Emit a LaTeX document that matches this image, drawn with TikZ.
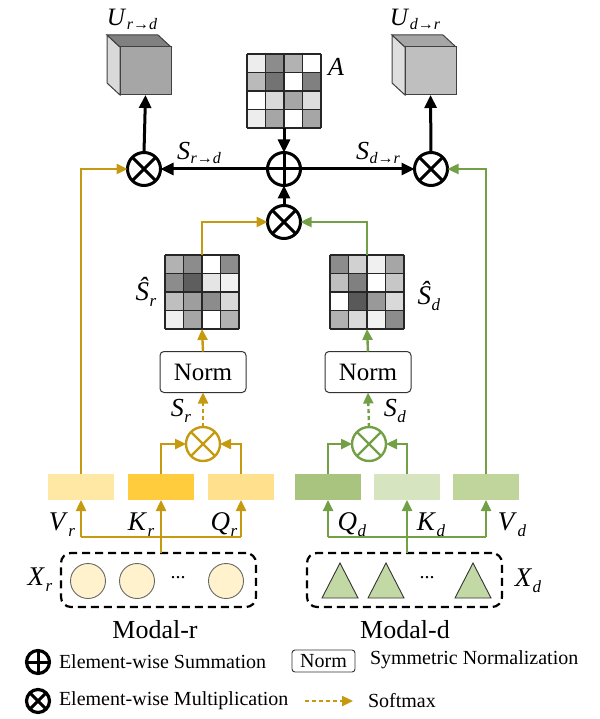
\documentclass[tikz,border=0pt]{standalone}
\usepackage{fontspec}
\setmainfont{Liberation Serif}
\usetikzlibrary{arrows.meta}
\definecolor{ygold}{HTML}{C59A10}
\definecolor{grn}{HTML}{73A047}
\definecolor{yA}{HTML}{FFE8A3}
\definecolor{yB}{HTML}{FFCC3E}
\definecolor{yC}{HTML}{FFE08C}
\definecolor{gA}{HTML}{A9C47F}
\definecolor{gB}{HTML}{D7E4C0}
\definecolor{gC}{HTML}{BFD59B}
\definecolor{circfill}{HTML}{FFF2CC}
\definecolor{trifill}{HTML}{C3D9A5}
\newcommand{\fsz}[1]{\fontsize{#1}{#1}\selectfont}
\newcommand{\sublab}[5]{{\fsz{#1}\textit{#2}\raisebox{-#4pt}{\fsz{#3}\kern0.5pt\textit{#5}}}}
\newcommand{\mygrid}[3]{%
  \foreach \v [count=\i from 0] in {#3} {
    \pgfmathtruncatemacro{\cx}{mod(\i,4)}
    \pgfmathtruncatemacro{\cy}{int(\i/4)}
    \fill[black!\v] ({#1-37+\cx*18.5},{#2-37+\cy*18.5}) rectangle ++(18.5,18.5);
  }
  \foreach \k in {0,1,2,3,4} {
    \draw[line width=1.1pt, black!85] ({#1-37+\k*18.5},{#2-37}) -- ++(0,74);
    \draw[line width=1.1pt, black!85] ({#1-37},{#2-37+\k*18.5}) -- ++(74,0);
  }
}
\tikzset{
  every node/.style={inner sep=0pt, outer sep=0pt},
  blk/.style={line width=3pt, -{Triangle[length=13pt,width=12pt]}},
  yl/.style={draw=ygold, line width=2.4pt, -{Triangle[length=11pt,width=10pt]}},
  gl/.style={draw=grn, line width=2.4pt, -{Triangle[length=11pt,width=10pt]}},
  opmul/.style={circle, draw, minimum size=33pt, line width=3pt,
    path picture={\draw[line width=3pt] (path picture bounding box.north west)--(path picture bounding box.south east) (path picture bounding box.north east)--(path picture bounding box.south west);}},
  opsum/.style={circle, draw, minimum size=33pt, line width=3pt,
    path picture={\draw[line width=3pt] (path picture bounding box.north)--(path picture bounding box.south) (path picture bounding box.east)--(path picture bounding box.west);}},
  smul/.style={circle, draw=#1, minimum size=34pt, line width=2.4pt,
    path picture={\draw[#1, line width=2.4pt] (path picture bounding box.north west)--(path picture bounding box.south east) (path picture bounding box.north east)--(path picture bounding box.south west);}},
  normbox/.style={draw=black!80, line width=1pt, rounded corners=4pt, minimum width=86pt, minimum height=41pt, font=\fsz{25}},
  qkv/.style={minimum width=66pt, minimum height=26pt},
  dbox/.style={draw, line width=2.2pt, dash pattern=on 8pt off 5pt, rounded corners=10pt},
  mat/.style={minimum size=74pt},
  cubeface/.style={draw=black!75, line width=1pt},
  legtext/.style={anchor=west, font=\fsz{20}},
}
\begin{document}
\begin{tikzpicture}[x=1pt,y=-1pt]
\useasboundingbox (0,0) rectangle (599,719);

% cubes
\filldraw[cubeface, fill=black!15] (107,35) -- (120,47) -- (120,95) -- (107,83) -- cycle;
\filldraw[cubeface, fill=black!50] (107,35) -- (158,35) -- (171,47) -- (120,47) -- cycle;
\filldraw[cubeface, fill=black!35] (120,47) rectangle (171,95);
\node[minimum width=51pt, minimum height=48pt] (UL) at (145.5,71) {};
\filldraw[cubeface, fill=black!13] (392,35) -- (405,47) -- (405,95) -- (392,83) -- cycle;
\filldraw[cubeface, fill=black!35] (392,35) -- (443,35) -- (456,47) -- (405,47) -- cycle;
\filldraw[cubeface, fill=black!25] (405,47) rectangle (456,95);
\node[minimum width=51pt, minimum height=48pt] (UR) at (430.5,71) {};
\node (ULlab) at (132,19) {\sublab{25}{U}{16}{4}{r→d}};
\node (URlab) at (415,19) {\sublab{25}{U}{16}{4}{d→r}};

% matrices
\mygrid{284}{91}{7,45,30,0, 27,55,0,50, 0,15,35,13, 7,35,0,35}
\node[mat] (A) at (284,91) {};
\node (Alab) at (336,67) {\fsz{26}\textit{A}};
\mygrid{202}{292}{30,45,0,45, 45,63,10,5, 25,38,45,15, 6,35,0,30}
\node[mat] (Sr) at (202,292) {};
\node (Srlab) at (146,292) {\sublab{27}{Ŝ}{17}{6}{r}};
\mygrid{367}{292}{45,18,6,35, 25,50,0,22, 0,65,40,15, 30,15,5,45}
\node[mat] (Sd) at (367,292) {};
\node (Sdlab) at (429,296) {\sublab{27}{Ŝ}{17}{6}{d}};

% operators
\node[opmul] (mL) at (144,169) {};
\node[opsum] (pl) at (284,169) {};
\node[opmul] (mR) at (431,169) {};
\node[opmul] (mM) at (284,222) {};
\node[smul=ygold] (sL) at (203,444) {};
\node[smul=grn] (sR) at (369,444) {};

\node (Srdlab) at (199,153) {\sublab{26}{S}{16}{4}{r→d}};
\node (Sdrlab) at (378,153) {\sublab{26}{S}{16}{4}{d→r}};

% norm boxes
\node[normbox] (nL) at (203,372) {Norm};
\node[normbox] (nR) at (368,372) {Norm};
\node (srl) at (181,411) {\sublab{26}{S}{17}{6}{r}};
\node (sdl) at (395,411) {\sublab{26}{S}{17}{6}{d}};

% Q K V boxes
\node[qkv, fill=yA] (Vr) at (81,487) {};
\node[qkv, fill=yB] (Kr) at (161,487) {};
\node[qkv, fill=yC] (Qr) at (241,487) {};
\node[qkv, fill=gA] (Qd) at (328,487) {};
\node[qkv, fill=gB] (Kd) at (407,487) {};
\node[qkv, fill=gC] (Vd) at (486,487) {};

\node (Vrl) at (62,525) {\sublab{27}{V}{17}{6}{r}};
\node (Krl) at (141,525) {\sublab{27}{K}{17}{6}{r}};
\node (Qrl) at (224,525) {\sublab{27}{Q}{17}{6}{r}};
\node (Qdl) at (352,525) {\sublab{27}{Q}{17}{6}{d}};
\node (Kdl) at (431,525) {\sublab{27}{K}{17}{6}{d}};
\node (Vdl) at (512,525) {\sublab{27}{V}{17}{6}{d}};

% input groups
\node[dbox, minimum width=195pt, minimum height=54pt] (xr) at (158.5,580) {};
\node[dbox, minimum width=195pt, minimum height=54pt] (xd) at (404.5,580) {};
\foreach \cxx in {88,137,226} \filldraw[fill=circfill, draw=black!60, line width=0.9pt] (\cxx,581) circle (17.5);
\node (dotsr) at (178,578) {\fsz{20}...};
\foreach \cxx in {340,386,473} \filldraw[fill=trifill, draw=black!80, line width=0.9pt] (\cxx-18,598) -- (\cxx,563) -- (\cxx+18,598) -- cycle;
\node (dotsd) at (427,578) {\fsz{20}...};
\node (Xrl) at (40,580) {\sublab{27}{X}{17}{6}{r}};
\node (Xdl) at (528,581) {\sublab{27}{X}{17}{6}{d}};
\node (modr) at (155,630) {\fsz{26}Modal-r};
\node (modd) at (405,630) {\fsz{26}Modal-d};

% bottom feeds
\coordinate (yb) at (161,537);
\coordinate (gb) at (407,537);
\draw[draw=ygold, line width=2.4pt] (yb |- xr.north) -- (yb);
\draw[draw=ygold, line width=2.4pt] (Vr.south |- yb) -- (Qr.south |- yb);
\draw[yl] (Vr.south |- yb) -- (Vr.south);
\draw[yl] (yb) -- (Kr.south);
\draw[yl] (Qr.south |- yb) -- (Qr.south);
\draw[draw=grn, line width=2.4pt] (gb |- xd.north) -- (gb);
\draw[draw=grn, line width=2.4pt] (Qd.south |- gb) -- (Vd.south |- gb);
\draw[gl] (Qd.south |- gb) -- (Qd.south);
\draw[gl] (gb) -- (Kd.south);
\draw[gl] (Vd.south |- gb) -- (Vd.south);

% into small multipliers
\draw[yl] (Kr.north) |- (sL.west);
\draw[yl] (Qr.north) |- (sL.east);
\draw[gl] (Qd.north) |- (sR.west);
\draw[gl] (Kd.north) |- (sR.east);
\draw[yl, dash pattern=on 4pt off 3pt] (sL.north) -- (nL.south);
\draw[gl, dash pattern=on 4pt off 3pt] (sR.north) -- (nR.south);
\draw[yl] (nL.north) -- (Sr.south);
\draw[gl] (nR.north) -- (Sd.south);
\draw[yl] (Sr.north) |- (mM.west);
\draw[gl] (Sd.north) |- (mM.east);
\draw[yl] (Vr.north) |- (mL.west);
\draw[gl] (Vd.north) |- (mR.east);

% black arrows
\draw[blk] (A.south) -- (pl.north);
\draw[blk] (mM.north) -- (pl.south);
\draw[blk] (pl.west) -- (mL.east);
\draw[blk] (pl.east) -- (mR.west);
\draw[blk] (mL.north) -- (UL.south);
\draw[blk] (mR.north) -- (UR.south);

% legend
\node[opsum, minimum size=23pt, line width=3.2pt] (lgs) at (38,662) {};
\node[legtext] (lgst) at (59,662) {Element-wise Summation};
\node[opmul, minimum size=23pt, line width=3.2pt] (lgm) at (38,701) {};
\node[legtext] (lgmt) at (59,701) {Element-wise Multiplication};
\node[draw=black!80, line width=0.9pt, rounded corners=3pt, minimum width=63pt, minimum height=22pt, font=\fsz{20}] (lgn) at (323.5,661) {Norm};
\node[legtext] (lgnt) at (370,660) {Symmetric Normalization};
\coordinate (lga) at (305,701);
\node[legtext] (lgat) at (368,701) {Softmax};
\draw[yl, dash pattern=on 4pt off 3pt] (lga) -- ++(48,0);
\end{tikzpicture}
\end{document}
